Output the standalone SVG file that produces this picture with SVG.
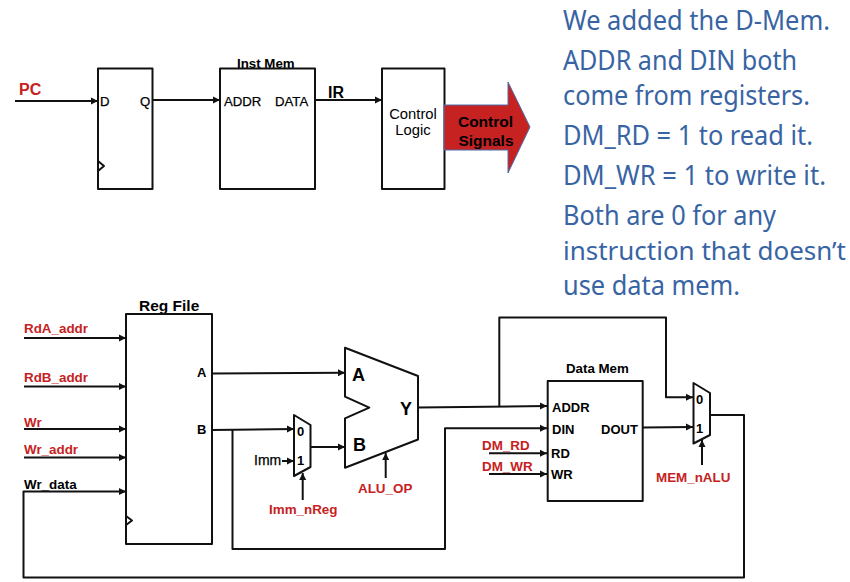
<svg xmlns="http://www.w3.org/2000/svg" width="850" height="582" viewBox="0 0 850 582">
<style>
text{font-family:"Liberation Sans",Arial,sans-serif;fill:#000}
.b{font-weight:700}
.r{fill:#c62222;font-weight:700;font-size:13.400px}
.s{font-size:13.400px}
.m{font-size:13.200px;stroke:#000;stroke-width:.25}
.n{font-size:13px;font-weight:700}
.blk{fill:#fff;stroke:#111;stroke-width:2;stroke-linejoin:round}
.w{fill:none;stroke:#111;stroke-width:2;stroke-linejoin:round}
.a{marker-end:url(#ah)}
.t{font-family:"Noto Sans","Open Sans",sans-serif;fill:#3864a4;font-size:27.500px}
</style>
<defs>
<marker id="ah" markerUnits="userSpaceOnUse" markerWidth="8" markerHeight="8" refX="7" refY="4" orient="auto"><path d="M0 .5L7 4L0 7.500z" fill="#111"/></marker>
</defs>
<rect width="850" height="582" fill="#fff"/>
<g id="connectors">
<path class="w a" d="M15 101H98"/>
<path class="w a" d="M153 100H220"/>
<path class="w a" d="M315 100H382"/>
<path class="w a" d="M24 338H126"/>
<path class="w a" d="M24 386.500H126"/>
<path class="w a" d="M24 429H126"/>
<path class="w a" d="M24 457.500H126"/>
<path class="w a" d="M710 415H744V577.500H23.500V491.500H126"/>
<path class="w a" d="M213 373.500L345 372.700"/>
<path class="w a" d="M212 430L294 429"/>
<path class="w a" d="M232.500 430V549H445V428.300H547"/>
<path class="w a" d="M311 447H345"/>
<path class="w a" d="M282 461H294"/>
<path class="w a" d="M302.700 500V473"/>
<path class="w a" d="M385.700 478V453"/>
<path class="w a" d="M418 407.500L547 406"/>
<path class="w a" d="M499.300 406.500V317.500H666V397.300H693"/>
<path class="w a" d="M489 453.300H547"/>
<path class="w a" d="M489 474H547"/>
<path class="w a" d="M643 427.500L693 427"/>
<path class="w a" d="M702 465V440"/>
</g>
<g id="pc-label"><text class="b" x="19" y="95" font-size="16" style="fill:#c62222">PC</text></g>
<g id="pc-reg">
<rect class="blk" x="98" y="68.500" width="54.500" height="120.500"/>
<path class="w" d="M98 161L104 166L98 171"/>
<text class="m" x="100" y="106">D</text><text class="m" x="140" y="106">Q</text>
</g>
<g id="inst-mem">
<text class="b" x="237" y="68" font-size="13.300">Inst Mem</text>
<rect class="blk" x="220" y="68.500" width="95" height="120.500"/>
<text class="m" x="224" y="106">ADDR</text><text class="m" x="275" y="106">DATA</text>
</g>
<g id="ir-label"><text class="b" x="328" y="98" font-size="16">IR</text></g>
<g id="control-logic">
<rect class="blk" x="382" y="68.500" width="62.500" height="120.500"/>
<text x="413" y="119" font-size="14.800" text-anchor="middle">Control</text>
<text x="413" y="135" font-size="14.800" text-anchor="middle">Logic</text>
</g>
<g id="control-signals">
<path d="M444 105H508V82L530 127L508 173V150H444z" fill="#c62222" stroke="#4a6ea8" stroke-width="1"/>
<text class="b" x="485.500" y="127" font-size="15.500" text-anchor="middle">Control</text>
<text class="b" x="486" y="146" font-size="15.500" text-anchor="middle">Signals</text>
</g>
<g id="notes">
<text class="t" x="563" y="30" textLength="267" lengthAdjust="spacingAndGlyphs">We added the D-Mem.</text>
<text class="t" x="563" y="70" textLength="234" lengthAdjust="spacingAndGlyphs">ADDR and DIN both</text>
<text class="t" x="563" y="105" textLength="247" lengthAdjust="spacingAndGlyphs">come from registers.</text>
<text class="t" x="563" y="145" textLength="250" lengthAdjust="spacingAndGlyphs">DM_RD = 1 to read it.</text>
<text class="t" x="563" y="185" textLength="263" lengthAdjust="spacingAndGlyphs">DM_WR = 1 to write it.</text>
<text class="t" x="563" y="225" textLength="213" lengthAdjust="spacingAndGlyphs">Both are 0 for any</text>
<text class="t" x="563" y="260" textLength="283" lengthAdjust="spacingAndGlyphs" style="font-size:26px">instruction that doesn’t</text>
<text class="t" x="563" y="295" textLength="177" lengthAdjust="spacingAndGlyphs">use data mem.</text>
</g>
<g id="reg-file">
<text class="b" x="139" y="311" font-size="15.500">Reg File</text>
<rect class="blk" x="126" y="314" width="86" height="230"/>
<path class="w" d="M126 516L132 520.500L126 525"/>
<text class="n" x="197" y="377">A</text><text class="n" x="197" y="434">B</text>
</g>
<g id="reg-inputs">
<text class="r" x="24" y="333">RdA_addr</text>
<text class="r" x="24" y="382">RdB_addr</text>
<text class="r" x="24" y="427">Wr</text>
<text class="r" x="24" y="454">Wr_addr</text>
<text class="b s" x="24" y="489">Wr_data</text>
</g>
<g id="imm-mux">
<path class="blk" d="M294 415L310.500 425V467L294 476z"/>
<text class="n" x="297" y="436">0</text><text class="n" x="297" y="465">1</text>
<text class="m" x="254" y="465" style="font-size:14px">Imm</text>
<text class="r" x="269" y="514">Imm_nReg</text>
</g>
<g id="alu">
<path class="blk" d="M345 347.700L418 376V439.500L345 467.700V418.300L369.300 407.700L345 396.700z"/>
<text class="b" x="352" y="381" font-size="18">A</text>
<text class="b" x="353" y="451" font-size="18">B</text>
<text class="b" x="400" y="415" font-size="18">Y</text>
<text class="r" x="358" y="493">ALU_OP</text>
</g>
<g id="data-mem">
<text class="b" x="566" y="373" font-size="13.300">Data Mem</text>
<rect class="blk" x="547.700" y="381" width="95" height="120"/>
<text class="n" x="552" y="412">ADDR</text>
<text class="n" x="552" y="434">DIN</text>
<text class="n" x="551" y="458">RD</text>
<text class="n" x="551" y="479">WR</text>
<text class="n" x="601" y="434">DOUT</text>
<text class="r" x="482" y="450">DM_RD</text>
<text class="r" x="482" y="471">DM_WR</text>
</g>
<g id="mem-mux">
<path class="blk" d="M693.500 383L710 393V435L693.500 443.500z"/>
<text class="n" x="696" y="404">0</text><text class="n" x="696" y="433">1</text>
<text class="r" x="656" y="482">MEM_nALU</text>
</g>
</svg>
